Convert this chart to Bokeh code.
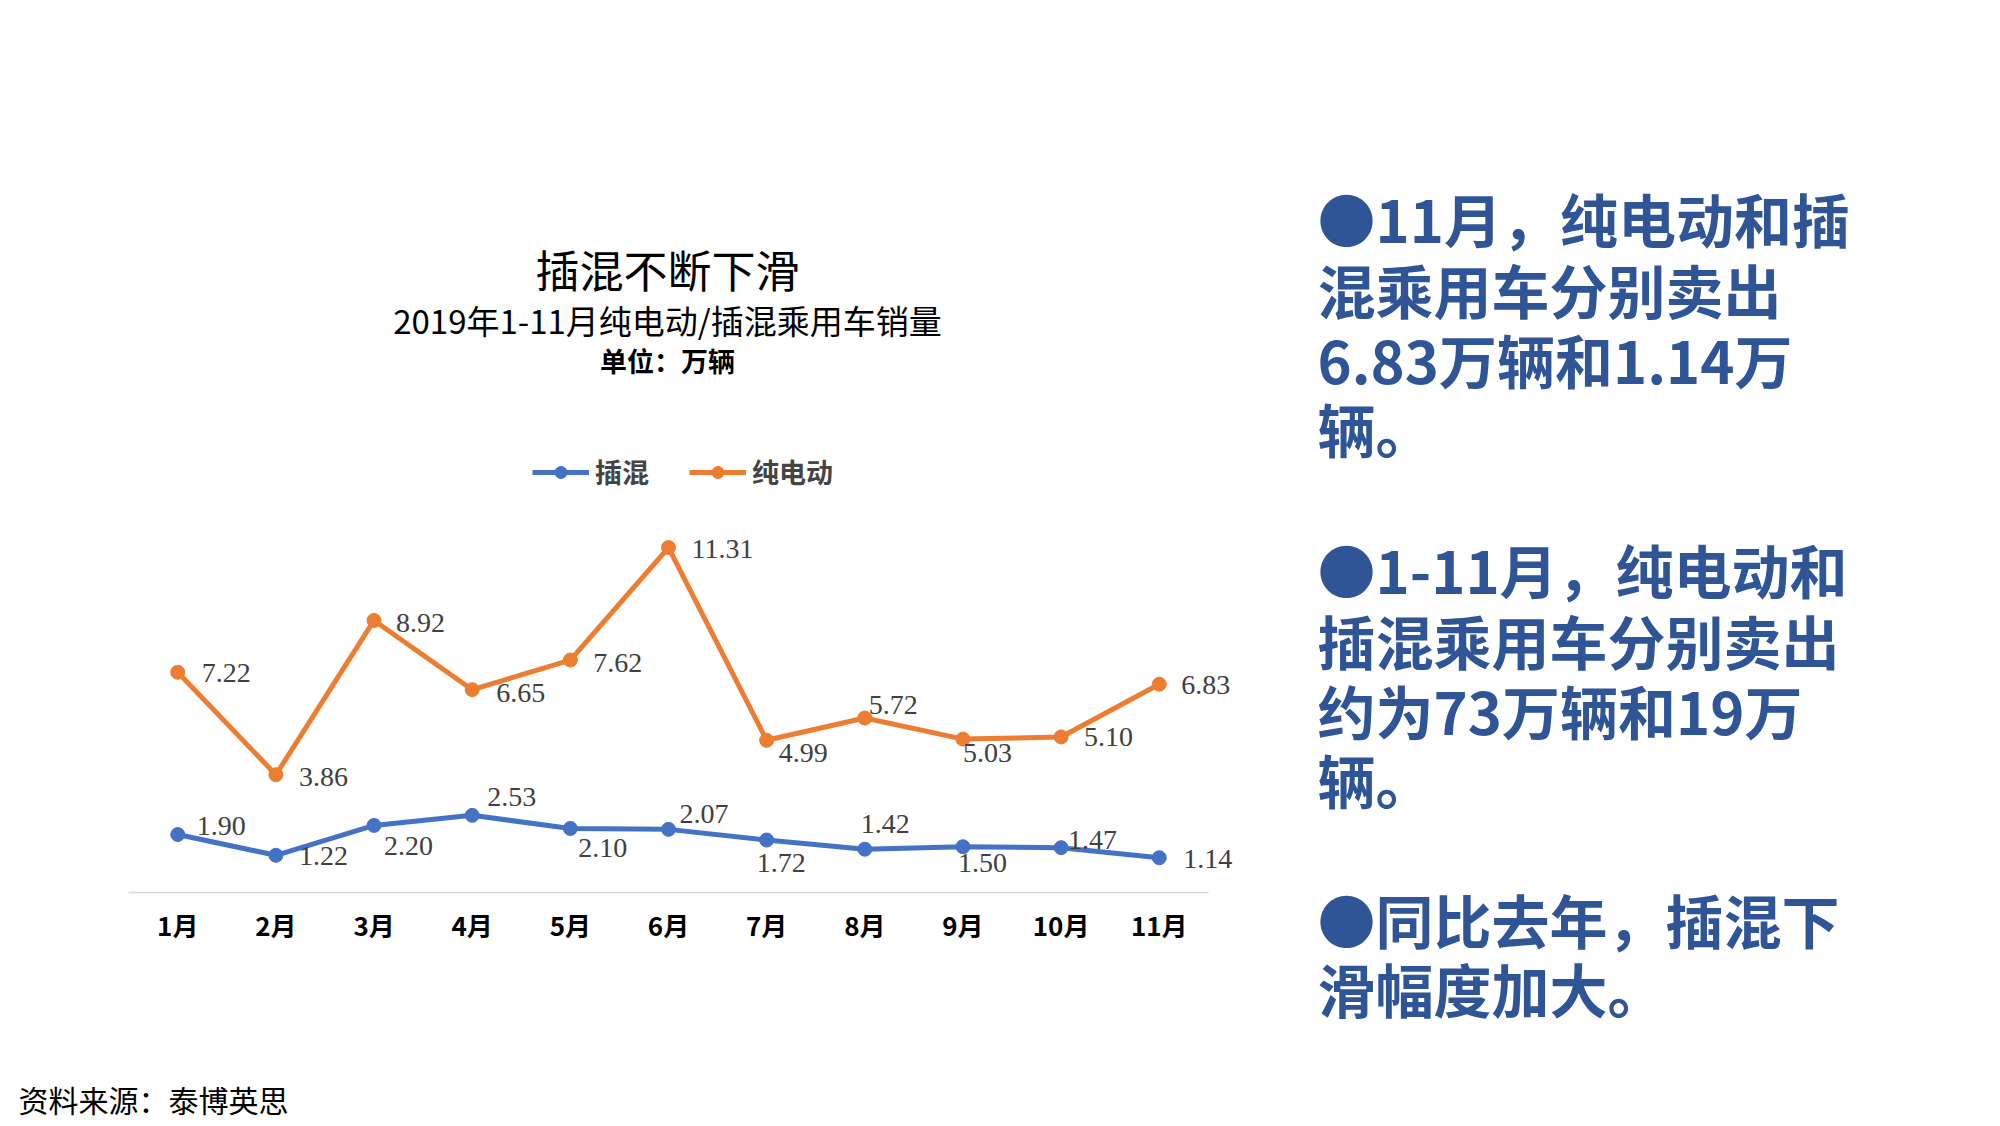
from bokeh.plotting import figure
from bokeh.models import ColumnDataSource, FactorRange, Range1d, Label, Legend, LegendItem
from bokeh.layouts import row, column
from bokeh.core.properties import value
from bokeh.embed import file_html
from bokeh.resources import INLINE

# ---------------- data ----------------
months = ["1月", "2月", "3月", "4月", "5月", "6月", "7月", "8月", "9月", "10月", "11月"]
phev = [1.90, 1.22, 2.20, 2.53, 2.10, 2.07, 1.72, 1.42, 1.50, 1.47, 1.14]
bev = [7.22, 3.86, 8.92, 6.65, 7.62, 11.31, 4.99, 5.72, 5.03, 5.10, 6.83]
series_names = ["插混", "纯电动"]

title_text = "插混不断下滑"
subtitle_text = "2019年1-11月纯电动/插混乘用车销量"
unit_text = "单位：万辆"
source_text = "资料来源：泰博英思"
note_lines = [
    "●11月，纯电动和插",
    "混乘用车分别卖出",
    "6.83万辆和1.14万",
    "辆。",
    "●1-11月，纯电动和",
    "插混乘用车分别卖出",
    "约为73万辆和19万",
    "辆。",
    "●同比去年，插混下",
    "滑幅度加大。",
]

# ---------------- styling (label placement, pixels) ----------------
bev_dx = [24, 23, 22, 24, 23, 23, 12, 4, 0, 23, 22]
bev_dy = [1, 2, 3, 3, 3, 1, 13, -13, 14, 0, 1]
phev_dx = [19, 23, 10, 15, 8, 11, -10, -4, -5, 7, 24]
phev_dy = [-9, 1, 21, -18, 20, -15, 23, -25, 16, -8, 1]
note_y = [217, 288, 358, 427, 568, 639, 709, 778, 918, 987]

BLUE = "#4472C4"
ORANGE = "#ED7D31"
NOTE_BLUE = "#2F5597"
CJK = "Noto Sans CJK SC"
NUM = "Liberation Serif"

W, H = 2000, 1126
LEFT_W = 1300           # width of the chart part
FOOT_H = 86             # height of the footer strip
PX_PER_CAT = 98.2
PAD = 0.45              # categories of padding on each side
CAT_L = 128             # page x of the left edge of the first category
FB = 892                # page y of the value 0
PX_PER_UNIT = 30.5

FL = round(CAT_L - PAD * PX_PER_CAT)
FR = round(CAT_L + (len(months) + PAD) * PX_PER_CAT)

src = ColumnDataSource(dict(
    month=months, phev=phev, bev=bev,
    phev_lbl=[f"{v:.2f}" for v in phev], bev_lbl=[f"{v:.2f}" for v in bev],
    bev_dx=bev_dx, bev_dy=bev_dy, phev_dx=phev_dx, phev_dy=phev_dy,
))

p = figure(
    width=LEFT_W, height=H - FOOT_H,
    x_range=FactorRange(*months, range_padding=PAD, range_padding_units="absolute"),
    y_range=Range1d(0, FB / PX_PER_UNIT),
    output_backend="svg", toolbar_location=None,
    min_border_left=FL, min_border_right=LEFT_W - FR,
    min_border_top=0, min_border_bottom=H - FOOT_H - FB,
)
p.background_fill_color = "white"
p.border_fill_color = "white"
p.outline_line_color = None
p.xgrid.visible = False
p.ygrid.visible = False
p.yaxis.visible = False

ax = p.xaxis[0]
ax.bounds = (0, len(months))
ax.axis_line_color = "#D9D9D9"
ax.axis_line_width = 1.5
ax.major_tick_line_color = None
ax.minor_tick_line_color = None
ax.major_label_text_font = CJK
ax.major_label_text_font_style = "bold"
ax.major_label_text_font_size = "26px"
ax.major_label_text_color = "#000000"
ax.major_label_standoff = 7

l1 = p.line("month", "phev", source=src, line_color=BLUE, line_width=5)
s1 = p.scatter("month", "phev", source=src, size=14, fill_color=BLUE, line_color=BLUE)
l2 = p.line("month", "bev", source=src, line_color=ORANGE, line_width=5)
s2 = p.scatter("month", "bev", source=src, size=14, fill_color=ORANGE, line_color=ORANGE)

for ycol, col, dx, dy in (("phev", "phev_lbl", "phev_dx", "phev_dy"),
                          ("bev", "bev_lbl", "bev_dx", "bev_dy")):
    p.text("month", ycol, text=col, source=src, x_offset=dx, y_offset=dy,
           text_font=value(NUM), text_font_size="28px", text_color="#404040",
           text_align="left", text_baseline="middle")

legend = Legend(
    items=[LegendItem(label=series_names[0], renderers=[l1, s1]),
           LegendItem(label=series_names[1], renderers=[l2, s2])],
    orientation="horizontal", location=(532 - FL, FB - 491),
    glyph_width=57, glyph_height=30, label_height=30,
    label_text_font=CJK, label_text_font_style="bold", label_text_font_size="27px",
    label_standoff=6, spacing=40, padding=0, margin=0,
    border_line_color=None, background_fill_alpha=0,
)
p.add_layout(legend)


def frame_label(fig, text, x, y, size, align="left", style="normal", color="#000000"):
    fig.add_layout(Label(
        x=x, y=y, text=text, text_font=CJK, text_font_size=size,
        text_font_style=style, text_color=color,
        text_align=align, text_baseline="middle",
    ))


def chart_label(text, x, y, size, align="center", style="normal"):
    p.add_layout(Label(
        x=x - FL, y=FB - y, x_units="screen", y_units="screen",
        text=text, text_font=CJK, text_font_size=size, text_font_style=style,
        text_color="#000000", text_align=align, text_baseline="middle",
    ))


chart_label(title_text, 667, 268, "44px")
chart_label(subtitle_text, 667, 319, "33px")
chart_label(unit_text, 667, 360, "27px", style="bold")


def blank_fig(w, h, x0, x1, y0, y1):
    f = figure(width=w, height=h, x_range=Range1d(x0, x1), y_range=Range1d(y1, y0),
               output_backend="svg", toolbar_location=None,
               min_border=0, min_border_left=0, min_border_right=0,
               min_border_top=0, min_border_bottom=0)
    f.axis.visible = False
    f.grid.visible = False
    f.outline_line_color = None
    f.background_fill_color = "white"
    f.border_fill_color = "white"
    return f


notes = blank_fig(W - LEFT_W, H - FOOT_H, LEFT_W, W, 0, H - FOOT_H)
for txt, yy in zip(note_lines, note_y):
    frame_label(notes, txt, 1317, yy, "58px", style="bold", color=NOTE_BLUE)

foot = blank_fig(W, FOOT_H, 0, W, H - FOOT_H, H)
frame_label(foot, source_text, 18, 1098, "30px")

# notes wrapped in its own column so its frame is not aligned with the chart's
page = column(row(p, column(notes, spacing=0), spacing=0), foot, spacing=0)
open("out.html", "w").write(file_html(page, INLINE))
